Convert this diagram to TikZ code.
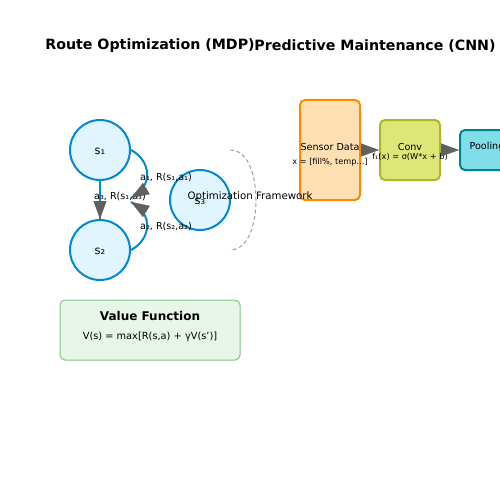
\documentclass[tikz,border=0pt]{standalone}
\usepackage{fontspec}
\setmainfont{DejaVu Sans}
\usetikzlibrary{arrows.meta}
\definecolor{cfill}{HTML}{E1F5FE}
\definecolor{cedge}{HTML}{0288D1}
\definecolor{agray}{HTML}{606060}
\definecolor{dgray}{HTML}{A0A0A0}
\definecolor{sfill}{HTML}{FFE0B2}
\definecolor{sedge}{HTML}{FB8C00}
\definecolor{kfill}{HTML}{DCE775}
\definecolor{kedge}{HTML}{AFB42B}
\definecolor{pfill}{HTML}{80DEEA}
\definecolor{pedge}{HTML}{00838F}
\definecolor{vfill}{HTML}{E8F5E9}
\definecolor{vedge}{HTML}{81C784}
\tikzset{
  state/.style={circle, draw=cedge, fill=cfill, line width=2pt, minimum size=60pt, inner sep=0pt},
  title/.style={font=\fontsize{14.2}{16}\selectfont\bfseries},
  statelbl/.style={font=\fontsize{11.5}{13}\selectfont},
  elbl/.style={font=\fontsize{9.6}{11}\selectfont, inner sep=0pt},
  small/.style={font=\fontsize{8.2}{9}\selectfont, inner sep=0pt},
  edge/.style={draw=cedge, line width=2pt},
  tip/.style={draw=agray, line width=0.2pt, -{Triangle[length=18pt,width=13pt,color=agray]}},
  layer/.style={rounded corners=5pt, line width=2pt, inner sep=0pt},
}
\begin{document}
\begin{tikzpicture}[x=1pt,y=-1pt]
\useasboundingbox (0,0) rectangle (500,500);
\clip (0,0) rectangle (500,500);
\fill[white] (0,0) rectangle (500,500);
% titles
\node[title] (t1) at (150,46) {Route Optimization (MDP)};
\node[title] (t2) at (375,46) {Predictive Maintenance (CNN)};
% states
\node[state] (s1) at (100,150) {};
\node[state] (s2) at (100,250) {};
\node[state] (s3) at (200,200) {};
\coordinate (tip1) at (131,198);
\coordinate (tip2) at (131,202);
\coordinate (b3) at (100,201.5);
\coordinate (b1) at (146.5,188.5);
\coordinate (b2) at (146.5,211.5);
% CNN pipeline shapes
\node[layer, draw=sedge, fill=sfill, minimum width=60pt, minimum height=100pt] (sens) at (330,150) {};
\node[layer, draw=kedge, fill=kfill, minimum width=60pt, minimum height=60pt] (conv) at (410,150) {};
\node[layer, draw=pedge, fill=pfill, minimum width=60pt, minimum height=40pt] (pool) at (490,150) {};
% value function
\node[rounded corners=5pt, draw=vedge, fill=vfill, line width=1pt, minimum width=180pt, minimum height=60pt] (vf) at (150,330) {};
% dashed framework arc
\draw[dgray, line width=1pt, dash pattern=on 4pt off 2.5pt] (230,150) .. controls (250,150) and (256,180) .. (256,200) .. controls (256,220) and (250,250) .. (230,250);
% edges (lines)
\draw[edge] (s1.south) -- (s2.north);
\draw[edge] (s1.east) .. controls (150,160) and (155,185) .. (tip1);
\draw[edge] (s2.east) .. controls (150,240) and (155,215) .. (tip2);
% texts
\node[statelbl] at (100,151) {s₁};
\node[statelbl] at (100,251) {s₂};
\node[statelbl] at (200,201) {s₃};
\node[elbl, font=\fontsize{10.2}{12}\selectfont] (opt) at (250,197) {Optimization Framework};
\node[elbl] (l1) at (166,177) {a₁, R(s₁,a₁)};
\node[elbl] (l2) at (166,226) {a₂, R(s₂,a₂)};
\node[elbl] (l3) at (120,196) {a₃, R(s₁,a₃)};
\node[elbl] at (330,147) {Sensor Data};
\node[small] at (330,162) {x = [fill\%, temp...]};
\node[elbl] at (410,147) {Conv};
\node[small] at (410,157) {f₁(x) = σ(W*x + b)};
\node[elbl] at (487,147) {Pooling};
\node[font=\fontsize{12}{14}\selectfont\bfseries] at (150,316) {Value Function};
\node[font=\fontsize{9.8}{11}\selectfont] at (150,337) {V(s) = max[R(s,a) + γV(s')]};
% arrow heads
\draw[tip] (b3) -- (s2.north);
\draw[tip] (b1) -- (tip1);
\draw[tip] (b2) -- (tip2);
\draw[tip] ([xshift=1pt]sens.east) -- (conv.west);
\draw[tip] ([xshift=1pt]conv.east) -- (pool.west);
\end{tikzpicture}
\end{document}
